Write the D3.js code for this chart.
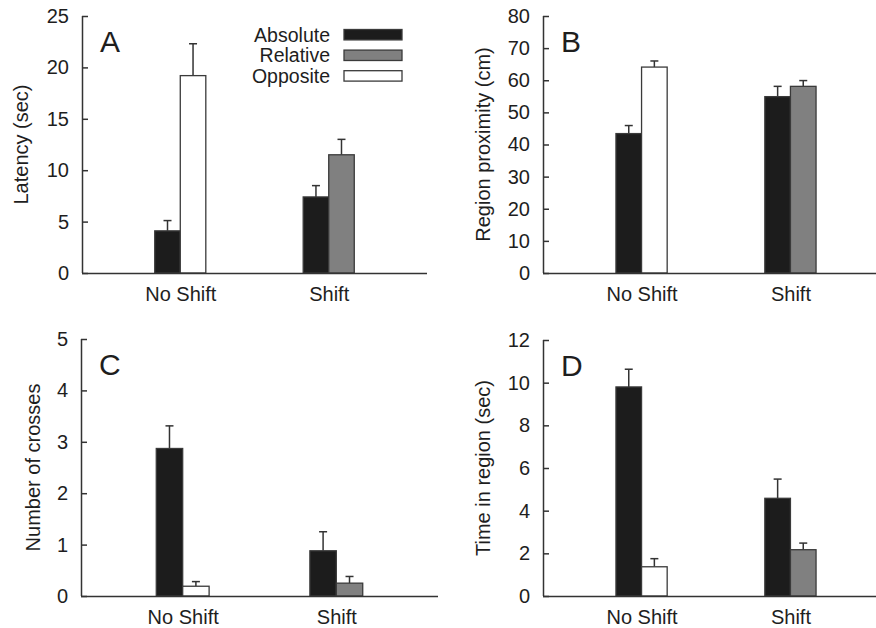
<!DOCTYPE html>
<html>
<head>
<meta charset="utf-8">
<script src="https://cdn.jsdelivr.net/npm/d3@7"></script>
<style>
  html, body { margin: 0; padding: 0; background: #fff; }
  svg { display: block; }
  text { font-family: "Liberation Sans", Arial, Helvetica, sans-serif; fill: #1e1e1e; }
</style>
</head>
<body>
<svg id="chart" width="876" height="628"></svg>
<script>
// ---------------- data ----------------
const categories = ["No Shift", "Shift"];
const seriesNames = ["Absolute", "Relative", "Opposite"];

// Panel A: Latency (sec)
const latencyAbsolute = [4.1, 7.4];
const latencyAbsoluteErr = [1.0, 1.1];
const latencyRelative = [null, 11.5];
const latencyRelativeErr = [null, 1.5];
const latencyOpposite = [19.2, null];
const latencyOppositeErr = [3.1, null];
const latencyTicks = [0, 5, 10, 15, 20, 25];

// Panel B: Region proximity (cm)
const proximityAbsolute = [43.4, 54.9];
const proximityAbsoluteErr = [2.5, 3.2];
const proximityRelative = [null, 58.1];
const proximityRelativeErr = [null, 1.8];
const proximityOpposite = [64.1, null];
const proximityOppositeErr = [1.9, null];
const proximityTicks = [0, 10, 20, 30, 40, 50, 60, 70, 80];

// Panel C: Number of crosses
const crossesAbsolute = [2.87, 0.88];
const crossesAbsoluteErr = [0.44, 0.37];
const crossesRelative = [null, 0.25];
const crossesRelativeErr = [null, 0.13];
const crossesOpposite = [0.19, null];
const crossesOppositeErr = [0.09, null];
const crossesTicks = [0, 1, 2, 3, 4, 5];

// Panel D: Time in region (sec)
const timeAbsolute = [9.8, 4.58];
const timeAbsoluteErr = [0.83, 0.9];
const timeRelative = [null, 2.17];
const timeRelativeErr = [null, 0.31];
const timeOpposite = [1.37, null];
const timeOppositeErr = [0.38, null];
const timeTicks = [0, 2, 4, 6, 8, 10, 12];

// ---------------- styling / layout ----------------
const fills = { Absolute: "#1c1c1c", Relative: "#808080", Opposite: "#ffffff" };
const inkColor = "#333";

const panels = [
  { letter: "A", label: "Latency (sec)", ticks: latencyTicks,
    values: { Absolute: latencyAbsolute, Relative: latencyRelative, Opposite: latencyOpposite },
    errs: { Absolute: latencyAbsoluteErr, Relative: latencyRelativeErr, Opposite: latencyOppositeErr },
    left: 82, right: 427, top: 16, bottom: 273, labelX: 28, legend: true },
  { letter: "B", label: "Region proximity (cm)", ticks: proximityTicks,
    values: { Absolute: proximityAbsolute, Relative: proximityRelative, Opposite: proximityOpposite },
    errs: { Absolute: proximityAbsoluteErr, Relative: proximityRelativeErr, Opposite: proximityOppositeErr },
    left: 543, right: 889, top: 16, bottom: 273, labelX: 489.5 },
  { letter: "C", label: "Number of crosses", ticks: crossesTicks,
    values: { Absolute: crossesAbsolute, Relative: crossesRelative, Opposite: crossesOpposite },
    errs: { Absolute: crossesAbsoluteErr, Relative: crossesRelativeErr, Opposite: crossesOppositeErr },
    left: 81, right: 438, top: 339, bottom: 596, labelX: 40 },
  { letter: "D", label: "Time in region (sec)", ticks: timeTicks,
    values: { Absolute: timeAbsolute, Relative: timeRelative, Opposite: timeOpposite },
    errs: { Absolute: timeAbsoluteErr, Relative: timeRelativeErr, Opposite: timeOppositeErr },
    left: 543, right: 889, top: 340, bottom: 596, labelX: 489.5 }
];

const svg = d3.select("#chart");

panels.forEach(p => {
  const g = svg.append("g");
  const y = d3.scaleLinear()
    .domain([0, d3.max(p.ticks)])
    .range([p.bottom, p.top]);
  const x = d3.scalePoint()
    .domain(categories)
    .range([p.left, p.right])
    .padding(0.662);
  const barW = x.step() * 0.172;

  // bars
  categories.forEach((cat, ci) => {
    const present = seriesNames.filter(s => p.values[s][ci] != null);
    const sub = d3.scaleBand().domain(present).range([x(cat) - barW, x(cat) + barW]);
    present.forEach(s => {
      const v = p.values[s][ci];
      const e = p.errs[s][ci];
      const bx = sub(s);
      // error bar (upper only)
      const cx = bx + sub.bandwidth() / 2;
      g.append("line")
        .attr("x1", cx).attr("x2", cx)
        .attr("y1", y(v)).attr("y2", y(v + e))
        .attr("stroke", inkColor).attr("stroke-width", 1.5);
      g.append("line")
        .attr("x1", cx - 4).attr("x2", cx + 4)
        .attr("y1", y(v + e)).attr("y2", y(v + e))
        .attr("stroke", inkColor).attr("stroke-width", 1.5);
      g.append("rect")
        .attr("x", bx).attr("y", y(v))
        .attr("width", sub.bandwidth()).attr("height", y(0) - y(v))
        .attr("fill", fills[s])
        .attr("stroke", "#3a3a3a").attr("stroke-width", 1.3);
    });
  });

  // y axis (ticks pointing inward)
  const yAxis = g.append("g")
    .attr("transform", `translate(${p.left},0)`)
    .call(d3.axisLeft(y).tickValues(p.ticks).tickFormat(d3.format("d"))
      .tickSizeInner(-6).tickSizeOuter(0).tickPadding(13));
  yAxis.selectAll("text").style("font-size", "20px").attr("fill", "#1e1e1e");
  yAxis.selectAll("line, path").attr("stroke", inkColor).attr("stroke-width", 1.5);
  yAxis.select(".domain").attr("d", `M0.5,${p.bottom}V${p.top}`);

  // x axis
  const xAxis = g.append("g")
    .attr("transform", `translate(0,${p.bottom})`)
    .call(d3.axisBottom(x).tickSize(0).tickPadding(14));
  xAxis.selectAll("text").style("font-size", "20px").attr("fill", "#1e1e1e");
  xAxis.select(".domain").attr("stroke", inkColor).attr("stroke-width", 1.5)
    .attr("d", `M${p.left},0.5H${p.right}`);

  // y label
  g.append("text")
    .attr("transform", `translate(${p.labelX},${(p.top + p.bottom) / 2}) rotate(-90)`)
    .attr("text-anchor", "middle")
    .style("font-size", "20px")
    .text(p.label);

  // panel letter
  g.append("text")
    .attr("x", p.left + 18).attr("y", p.top + 36)
    .style("font-size", "30px")
    .text(p.letter);

  // legend
  if (p.legend) {
    seriesNames.forEach((s, i) => {
      const cy = 34.7 + i * 20.6;
      g.append("text")
        .attr("x", 330).attr("y", cy + 7)
        .attr("text-anchor", "end")
        .style("font-size", "19.5px")
        .text(s);
      g.append("rect")
        .attr("x", 344).attr("y", cy - 5.2)
        .attr("width", 58).attr("height", 10.4)
        .attr("fill", fills[s])
        .attr("stroke", "#3a3a3a").attr("stroke-width", 1.3);
    });
  }
});
</script>
</body>
</html>
